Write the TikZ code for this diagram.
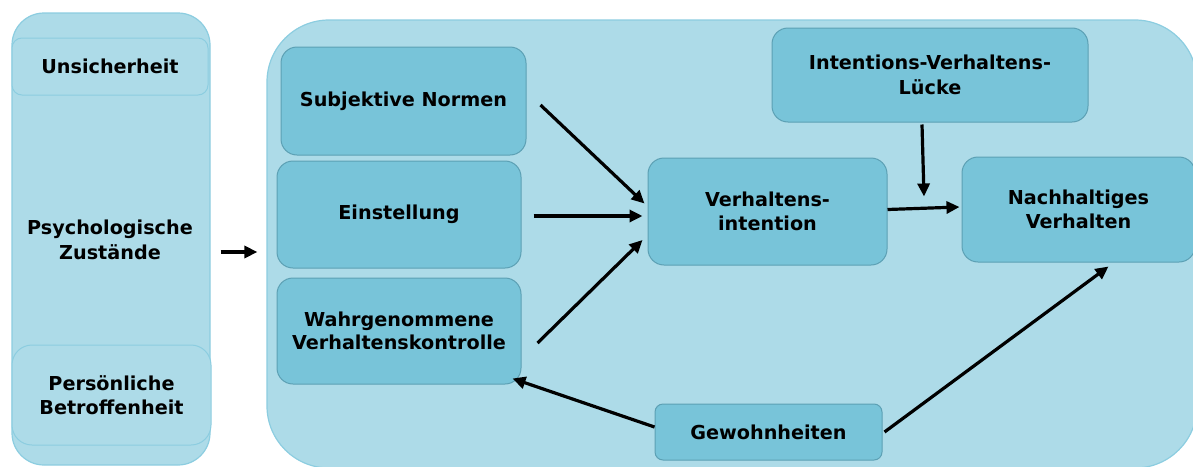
\documentclass[tikz,border=0pt]{standalone}
\usepackage{fontspec}
\setmainfont{DejaVu Sans}
\usetikzlibrary{calc,arrows.meta}
\definecolor{panelfill}{RGB}{173,219,232}
\definecolor{paneledge}{RGB}{140,205,224}
\definecolor{boxfill}{RGB}{120,196,217}
\definecolor{boxedge}{RGB}{92,160,180}
\tikzset{
  panel/.style={fill=panelfill, draw=paneledge, line width=1.2pt},
  subpanel/.style={fill=panelfill, draw=paneledge, line width=1pt, inner sep=0pt},
  factor/.style={fill=boxfill, draw=boxedge, line width=1pt, rounded corners=16pt,
    align=center, inner sep=0pt, font=\fontsize{19.2}{24.5}\selectfont\bfseries},
  lbl/.style={align=center, inner sep=0pt, font=\fontsize{19.2}{24.5}\selectfont\bfseries},
  tight/.style={font=\fontsize{19.2}{23}\selectfont\bfseries},
  arr/.style={line width=3.2pt, -{Triangle[length=13pt,width=12pt]}},
}
\begin{document}
\begin{tikzpicture}[x=1pt,y=-1pt]
\useasboundingbox (0,0) rectangle (1193,466);
\clip (0,0) rectangle (1193,466);

% left panel: psychological states
\node[panel, rounded corners=32pt, minimum width=198pt, minimum height=452pt, inner sep=0pt]
  (states) at (111,239) {};
\node[subpanel, rounded corners=10pt, minimum width=196pt, minimum height=57pt, lbl]
  (unsich) at (110,66.5) {Unsicherheit};
\node[subpanel, rounded corners=20pt, minimum width=199pt, minimum height=100pt, lbl]
  (betroff) at (111.5,395) {Persönliche\\Betroffenheit};
\node[lbl] (psych) at (110,240) {Psychologische\\Zustände};

% right panel: behaviour model
\node[panel, rounded corners=62pt, minimum width=930pt, minimum height=448pt, inner sep=0pt]
  (model) at (732,244) {};

\node[factor, minimum width=245pt, minimum height=108pt] (sn) at (403.5,101) {Subjektive Normen};
\node[factor, minimum width=244pt, minimum height=107pt] (ein) at (399,214.5) {Einstellung};
\node[factor, minimum width=244pt, minimum height=106pt, tight] (wvk) at (399,331)
  {Wahrgenommene\\Verhaltenskontrolle};
\node[factor, minimum width=316pt, minimum height=94pt] (ivl) at (930,75)
  {Intentions-Verhaltens-\\Lücke};
\node[factor, minimum width=239pt, minimum height=107pt] (vi) at (767.5,211.5)
  {Verhaltens-\\intention};
\node[factor, minimum width=233pt, minimum height=105pt] (nv) at (1078.5,209.5)
  {Nachhaltiges\\Verhalten};
\node[factor, rounded corners=8pt, minimum width=227pt, minimum height=56pt] (gew) at (768.5,432)
  {Gewohnheiten};

% connectors
\draw[arr] ($(states.east)+(10,13)$) -- ($(model.west)+(-9,8)$);
\draw[arr] ($(sn.east)+(14,4)$) -- ($(vi.west)+(-3,-8)$);
\draw[arr] ($(ein.east)+(12,1.5)$) -- ($(vi.west)+(-5,4.5)$);
\draw[arr] ($(wvk.east)+(16,12)$) -- ($(vi.west)+(-5,28.5)$);
\draw[arr] ($(vi.east)+(0,-2)$) -- ($(nv.west)+(-2,-2.5)$);
\coordinate (gapjoin) at ($(ivl.south)+(-6,74)$);
\draw[arr] ($(ivl.south)+(-8,2)$) -- (gapjoin);
\draw[arr] ($(gew.west)+(0,-5)$) -- ($(wvk.south east)+(-9,-6)$);
\draw[arr] ($(gew.east)+(2,0)$) -- ($(nv.south)+(30,4)$);
\end{tikzpicture}
\end{document}
